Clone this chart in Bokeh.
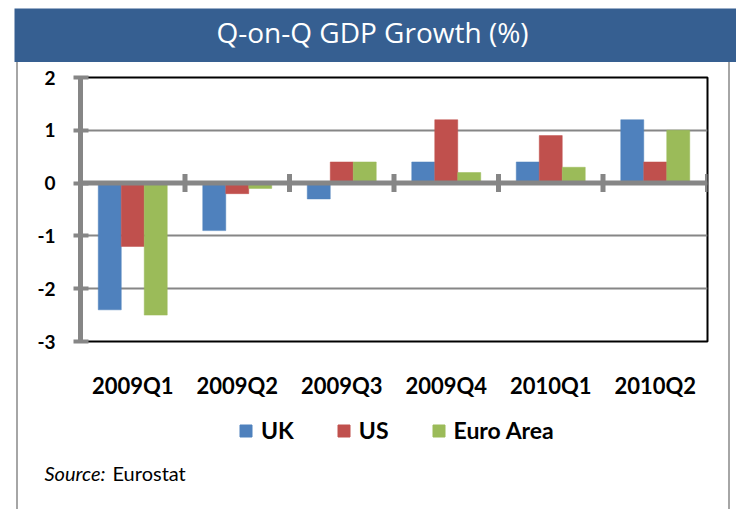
from bokeh.plotting import figure
from bokeh.layouts import column, row
from bokeh.models import (FactorRange, Range1d, FixedTicker, Legend, LegendItem,
                          Label, Span, ColumnDataSource, Spacer)
from bokeh.transform import dodge
from bokeh.embed import file_html
from bokeh.resources import INLINE

# ---- data ----
quarters = ["2009Q1", "2009Q2", "2009Q3", "2009Q4", "2010Q1", "2010Q2"]
uk = [-2.4, -0.9, -0.3, 0.4, 0.4, 1.2]
us = [-1.2, -0.2, 0.4, 1.2, 0.9, 0.4]
euro = [-2.5, -0.1, 0.4, 0.2, 0.3, 1.0]
series_names = ["UK", "US", "Euro Area"]
y_ticks = [-3, -2, -1, 0, 1, 2]
title_text = "Q-on-Q GDP Growth (%)"
source_label = "Source:"
source_name = "Eurostat"

# ---- style ----
colors = ["#4F81BD", "#C0504D", "#9BBB59"]
axis_gray = "#868686"
frame_gray = "#A6A6A6"
band_blue = "#365F91"
FONT = "Lato"


def bare(fig):
    fig.background_fill_color = "white"
    fig.border_fill_color = "white"
    fig.outline_line_color = None
    return fig


# ---- title band ----
top = figure(width=736, height=62, x_range=Range1d(0, 1), y_range=Range1d(0, 1),
             x_axis_type=None, y_axis_type=None, output_backend="svg",
             toolbar_location=None, min_border_left=14, min_border_right=0,
             min_border_top=8, min_border_bottom=0)
bare(top)
top.background_fill_color = band_blue
top.grid.visible = False
top.add_layout(Label(x=358, y=31, x_units="screen", y_units="screen",
                     text=title_text, text_align="center", text_baseline="middle",
                     text_color="white", text_font="Open Sans", text_font_size="28px"))

# ---- main chart ----
src = ColumnDataSource(dict(q=quarters, UK=uk, US=us, EA=euro))
p = figure(width=710, height=343, x_range=FactorRange(*quarters, range_padding=0),
           y_range=Range1d(y_ticks[0], y_ticks[-1]),
           output_backend="svg", toolbar_location=None,
           min_border_left=62, min_border_right=21, min_border_top=15,
           min_border_bottom=64)
bare(p)
p.outline_line_color = "black"
p.outline_line_width = 2

p.xgrid.grid_line_color = None
p.ygrid.ticker = FixedTicker(ticks=y_ticks)
p.ygrid.grid_line_color = axis_gray
p.ygrid.grid_line_width = 2

bar_w = 0.22
offsets = [-bar_w, 0.0, bar_w]
cols = ["UK", "US", "EA"]
for col, off, c in zip(cols, offsets, colors):
    p.vbar(x=dodge("q", off, range=p.x_range), top=col, width=bar_w,
           source=src, fill_color=c, line_color=c, line_width=0.5)

# zero line with category boundary ticks
p.add_layout(Span(location=0, dimension="width", line_color=axis_gray, line_width=5))
px_per_unit = 264 / (y_ticks[-1] - y_ticks[0])
tick_half = 9 / px_per_unit
bounds = list(range(1, len(quarters) + 1))
p.segment(x0=bounds, x1=bounds, y0=[-tick_half] * len(bounds),
          y1=[tick_half] * len(bounds), line_color=axis_gray, line_width=5)

ya = p.yaxis[0]
ya.ticker = FixedTicker(ticks=y_ticks)
ya.major_label_overrides = {t: str(t) for t in y_ticks}
ya.axis_line_color = axis_gray
ya.axis_line_width = 5
ya.major_tick_line_color = axis_gray
ya.major_tick_line_width = 4
ya.major_tick_in = 8
ya.major_tick_out = 7
ya.minor_tick_line_color = None
ya.major_label_standoff = 18
ya.major_label_text_font = FONT
ya.major_label_text_font_style = "bold"
ya.major_label_text_font_size = "19px"
ya.major_label_text_color = "black"

xa = p.xaxis[0]
xa.axis_line_color = None
xa.major_tick_line_color = None
xa.major_tick_in = 0
xa.major_tick_out = 0
xa.minor_tick_line_color = None
xa.major_label_standoff = 30
xa.major_label_text_font = FONT
xa.major_label_text_font_style = "bold"
xa.major_label_text_font_size = "22px"
xa.major_label_text_color = "black"

# ---- legend and source ----
bot = figure(width=710, height=104, x_range=FactorRange(*quarters), y_range=Range1d(-3, 2),
             x_axis_type=None, y_axis_type=None, output_backend="svg",
             toolbar_location=None, min_border_left=0, min_border_right=0,
             min_border_top=0, min_border_bottom=0)
bare(bot)
bot.grid.visible = False
keys = [bot.vbar(x=dodge("q", off, range=bot.x_range), top=col, width=bar_w, source=src,
                 fill_color=c, line_color=c, visible=False)
        for col, off, c in zip(cols, offsets, colors)]
legend = Legend(items=[LegendItem(label=n, renderers=[k]) for n, k in zip(series_names, keys)],
                location=(220, 65), orientation="horizontal",
                glyph_width=15, glyph_height=15, label_standoff=8, spacing=42,
                padding=0, margin=0, border_line_color=None, background_fill_alpha=0,
                inactive_fill_alpha=0,
                label_text_font=FONT, label_text_font_style="bold",
                label_text_font_size="23px", label_text_color="black", label_height=28)
bot.add_layout(legend)
bot.add_layout(Label(x=26, y=37, x_units="screen", y_units="screen",
                     text=source_label, text_font_style="italic", text_baseline="middle",
                     text_font=FONT, text_font_size="20px", text_color="black"))
bot.add_layout(Label(x=94, y=37, x_units="screen", y_units="screen",
                     text=source_name, text_baseline="middle",
                     text_font=FONT, text_font_size="20px", text_color="black"))

strip_style = {"background-color": frame_gray}


def framed(fig, h):
    return row(Spacer(width=16, height=h),
               Spacer(width=2, height=h, styles=strip_style),
               fig,
               Spacer(width=2, height=h, styles=strip_style),
               spacing=0)


layout = column(top, framed(p, 343), framed(bot, 104), spacing=0)

open("out.html", "w").write(file_html(layout, INLINE))
